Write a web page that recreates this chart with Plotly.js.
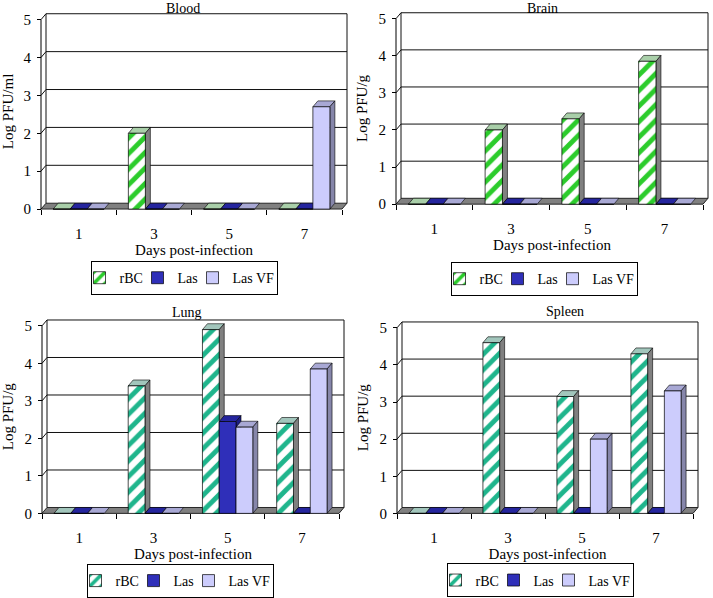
<!DOCTYPE html>
<html><head><meta charset="utf-8">
<script src="https://cdn.plot.ly/plotly-3.0.1.min.js"></script>
<style>html,body{margin:0;padding:0;background:#fff}</style>
</head><body><div id="chart" style="width:713px;height:598px"></div>
<script>
// ---- data ----
const days = ['1', '3', '5', '7'];
const seriesNames = ['rBC', 'Las', 'Las VF'];
const panelTitles = ['Blood', 'Brain', 'Lung', 'Spleen'];
const yTitles = ['Log PFU/ml', 'Log PFU/g', 'Log PFU/g', 'Log PFU/g'];
const xTitle = 'Days post-infection';
const yTicks = [0, 1, 2, 3, 4, 5];

const bloodRBC  = [0, 2.0, 0, 0];
const bloodLas  = [0, 0, 0, 0];
const bloodVF   = [0, 0, 0, 2.7];
const brainRBC  = [0, 2.0, 2.3, 3.85];
const brainLas  = [0, 0, 0, 0];
const brainVF   = [0, 0, 0, 0];
const lungRBC   = [0, 3.4, 4.9, 2.4];
const lungLas   = [0, 0, 2.45, 0];
const lungVF    = [0, 0, 2.3, 3.85];
const spleenRBC = [0, 4.6, 3.15, 4.3];
const spleenLas = [0, 0, 0, 0];
const spleenVF  = [0, 0, 2.0, 3.3];

const panelData = [
  [bloodRBC, bloodLas, bloodVF],
  [brainRBC, brainLas, brainVF],
  [lungRBC, lungLas, lungVF],
  [spleenRBC, spleenLas, spleenVF]
];

// ---- layout geometry (pixels) ----
const W = 713, H = 598, DX = 5, DY = 6, PAD = 3;
const geo = [
  {ax: 41,  right: 347, y0: 213, y5: 20,  tx: 183, ty: 9,   lx: 184, ly: 266, green: '#2ccc2c', top: '#a9cfa9'},
  {ax: 396, right: 708, y0: 208, y5: 19,  tx: 542, ty: 9,   lx: 544, ly: 267, green: '#2ccc2c', top: '#a9cfa9'},
  {ax: 42,  right: 344, y0: 523, y5: 332, tx: 187, ty: 318, lx: 180, ly: 575, green: '#1fb58c', top: '#a2c6bc'},
  {ax: 397, right: 698, y0: 523, y5: 334, tx: 565, ty: 317, lx: 540, ly: 574, green: '#1fb58c', top: '#a2c6bc'}
];
const FONT = 'Liberation Serif';
const sideCol = ['#808080', '#1c1c86', '#8686aa'];
const topCol  = [null, '#25259e', '#a8a8d4'];
const frontCol = [null, '#2f2fb9', '#ccccfc'];
const legendW = [25, 22, 39];

const idx = days.map((_, i) => i);
const barW = 0.226;
const offsets = [-1.5 * barW, -0.5 * barW, 0.5 * barW];

const traces = [];
const shapes = [];
const annotations = [];
const layout = {
  width: W, height: H, autosize: false,
  margin: {l: 0, r: 0, t: 0, b: 0, pad: 0},
  paper_bgcolor: '#fff', plot_bgcolor: 'rgba(0,0,0,0)',
  barmode: 'overlay', showlegend: true,
  font: {family: FONT, size: 14, color: '#000'}
};

function path(pts, close) {
  return 'M' + pts.map(p => p[0] + ',' + p[1]).join('L') + (close ? 'Z' : '');
}

geo.forEach((g, p) => {
  const sfx = p ? String(p + 1) : '';
  const xa = 'x' + sfx, ya = 'y' + sfx;
  const pxU = (g.y0 - g.y5) / 5;
  const pxC = (g.right - DX - g.ax) / 4;
  const dxu = DX / pxC, d = DY / pxU;
  const padX = PAD / pxC, padY = PAD / pxU;

  layout['xaxis' + sfx] = {
    domain: [(g.ax - PAD) / W, (g.right + PAD) / W],
    range: [-0.5 - padX, 3.5 + dxu + padX],
    anchor: 'free', position: 1 - g.y0 / H,
    tickmode: 'array', tickvals: idx, ticktext: days,
    ticks: 'outside', ticklen: 11, tickcolor: 'rgba(0,0,0,0)',
    minor: {tickmode: 'array', tickvals: [-0.5, 0.5, 1.5, 2.5, 3.5], ticks: 'outside', ticklen: 5, tickcolor: '#000', tickwidth: 1},
    showgrid: false, zeroline: false, showline: false, fixedrange: true,
    tickfont: {family: FONT, size: 15},
    title: {text: xTitle, font: {family: FONT, size: 15}, standoff: 1}
  };
  layout['yaxis' + sfx] = {
    domain: [1 - (g.y0 + PAD) / H, 1 - (g.y5 - DY - PAD) / H],
    range: [-padY, 5 + d + padY],
    anchor: 'free', position: g.ax / W,
    tickmode: 'array', tickvals: yTicks,
    ticks: 'outside', ticklen: 4, tickcolor: '#000', tickwidth: 1,
    ticklabelstandoff: 3,
    showgrid: false, zeroline: false, showline: false, fixedrange: true,
    tickfont: {family: FONT, size: 15},
    title: {text: yTitles[p], font: {family: FONT, size: 15}, standoff: 6}
  };
  const lg = 'legend' + sfx;
  layout[lg] = {
    orientation: 'h', x: g.lx / W, y: 1 - g.ly / H, xanchor: 'center', yanchor: 'top',
    bordercolor: '#000', borderwidth: 1, bgcolor: '#fff',
    font: {family: FONT, size: 14}, itemwidth: 30, tracegroupgap: 0, indentation: -12
  };
  annotations.push({
    text: panelTitles[p], xref: 'paper', yref: 'paper', x: g.tx / W, y: 1 - g.ty / H,
    xanchor: 'center', yanchor: 'middle', showarrow: false, font: {family: FONT, size: 14}
  });

  const ln = {color: '#111', width: 1};
  const sh = (o) => Object.assign({type: 'path', xref: xa, yref: ya, layer: 'below'}, o);
  for (let k = 1; k <= 5; k++) {
    shapes.push(sh({path: path([[-0.5, k], [-0.5 + dxu, k + d], [3.5 + dxu, k + d]]), line: ln}));
  }
  shapes.push(sh({path: path([[-0.5 + dxu, d], [-0.5 + dxu, 5 + d]]), line: ln}));
  shapes.push(sh({path: path([[3.5 + dxu, d], [3.5 + dxu, 5 + d]]), line: ln}));
  shapes.push(sh({path: path([[-0.5, 0], [3.5, 0], [3.5 + dxu, d], [-0.5 + dxu, d]], true),
    fillcolor: '#808080', line: {color: '#000', width: 0.8}}));
  shapes.push(sh({path: path([[-0.5, 0], [-0.5, 5]]), line: {color: '#000', width: 1}}));

  panelData[p].forEach((vals, s) => {
    const marker = s === 0
      ? {color: '#fff', line: {color: '#000', width: 0.7},
         pattern: {shape: '/', fgcolor: g.green, bgcolor: '#fff', size: 11, solidity: 0.45, fillmode: 'replace'}}
      : {color: frontCol[s], line: {color: '#000', width: 0.7}};
    traces.push({
      type: 'bar', name: seriesNames[s], x: idx, y: vals,
      xaxis: xa, yaxis: ya, legend: lg, legendwidth: legendW[s],
      offset: offsets[s], width: barW, marker: marker,
      hoverinfo: 'skip'
    });
    vals.forEach((v, i) => {
      const xl = i + offsets[s], xr = xl + barW;
      const tc = s === 0 ? g.top : topCol[s];
      shapes.push(sh({path: path([[xl, v], [xl + dxu, v + d], [xr + dxu, v + d], [xr, v]], true),
        fillcolor: tc, line: {color: '#000', width: 0.6}}));
      if (v > 0) {
        shapes.push(sh({path: path([[xr, v], [xr + dxu, v + d], [xr + dxu, d], [xr, 0]], true),
          fillcolor: sideCol[s], line: {color: '#000', width: 0.6}}));
      }
    });
  });
});
layout.shapes = shapes;
layout.annotations = annotations;

Plotly.newPlot('chart', traces, layout, {staticPlot: true, displayModeBar: false});
</script></body></html>
